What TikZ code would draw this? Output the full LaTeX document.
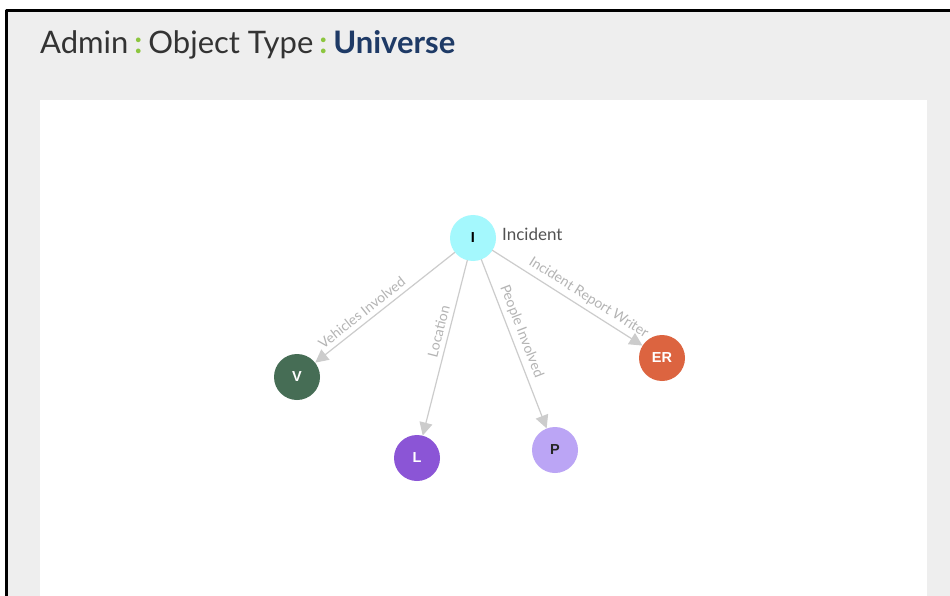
\documentclass[tikz,border=0pt]{standalone}
\usepackage{fontspec}
\setmainfont{Lato}
\newfontfamily\badgefont{Liberation Sans}
\usetikzlibrary{arrows.meta}

\definecolor{panelgrey}{HTML}{EEEEEE}
\definecolor{titleink}{HTML}{333333}
\definecolor{titlenavy}{HTML}{1E3A66}
\definecolor{sepgreen}{HTML}{8CC63F}
\definecolor{edgegrey}{HTML}{CCCCCC}
\definecolor{labelgrey}{HTML}{B4B4B4}
\definecolor{incidentcyan}{HTML}{A4F8FD}
\definecolor{vehiclegreen}{HTML}{466D55}
\definecolor{locationpurple}{HTML}{8B55D6}
\definecolor{peoplelilac}{HTML}{BBA5F5}
\definecolor{writerorange}{HTML}{DC6440}

\begin{document}
\begin{tikzpicture}[x=1pt, y=-1pt, line cap=round, line join=round,
    objtype/.style={circle, minimum size=46pt, inner sep=0pt,
                    font=\badgefont\fontsize{14.5}{14.5}\selectfont\bfseries},
    relation/.style={draw=edgegrey, line width=1.2pt,
                     -{Triangle[length=13pt,width=13pt]}},
    rellabel/.style={sloped, above, inner sep=4.5pt, text=labelgrey,
                     font=\fontsize{14}{14}\selectfont}]

  %% ════ 画布 / 面板 ════
  \fill[white] (0,0) rectangle (950,596);
  \fill[panelgrey] (8,11) rectangle (950,596);
  \fill[white] (40,100) rectangle (927,596);
  \draw[line width=3.2pt, line cap=butt] (6.5,596) -- (6.5,10.5) -- (950,10.5);

  %% ════ 标题 ════
  % 冒号前后留宽一点，原图的分隔点比较疏
  \node[anchor=base west, inner sep=0pt, text=titleink,
        font=\fontsize{31}{31}\selectfont] (title) at (40,54)
    {Admin\kern6pt{\color{sepgreen}\bfseries:}\kern6pt Object Type\kern6pt{\color{sepgreen}\bfseries:}\kern6pt{\color{titlenavy}\bfseries Universe}};

  %% ════ 节点 ════
  \node[objtype, fill=incidentcyan, text=black] (I) at (473,238) {I};
  \node[objtype, fill=vehiclegreen, text=white] (V) at (297,377) {V};
  \node[objtype, fill=locationpurple, text=white] (L) at (417,458) {L};
  \node[objtype, fill=peoplelilac, text=black!85] (P) at (555,450) {P};
  \node[objtype, fill=writerorange, text=white] (ER) at (662,358) {ER};

  % 中心节点旁的名称
  \node[anchor=west, inner sep=0pt, text=titleink!85,
        font=\fontsize{17}{17}\selectfont] (Iname) at (502,234) {Incident};

  %% ════ 关系 ════
  \draw[relation] (I) -- (V) node[rellabel, pos=0.62] {Vehicles Involved};
  \draw[relation] (I) -- (L) node[rellabel, pos=0.42] {Location};
  \draw[relation] (I) -- (P) node[rellabel, pos=0.45] {People Involved};
  \draw[relation] (I) -- (ER) node[rellabel, pos=0.6] {Incident Report Writer};

  \pgfresetboundingbox
  \path[use as bounding box] (0,0) rectangle (950,596);
\end{tikzpicture}
\end{document}
